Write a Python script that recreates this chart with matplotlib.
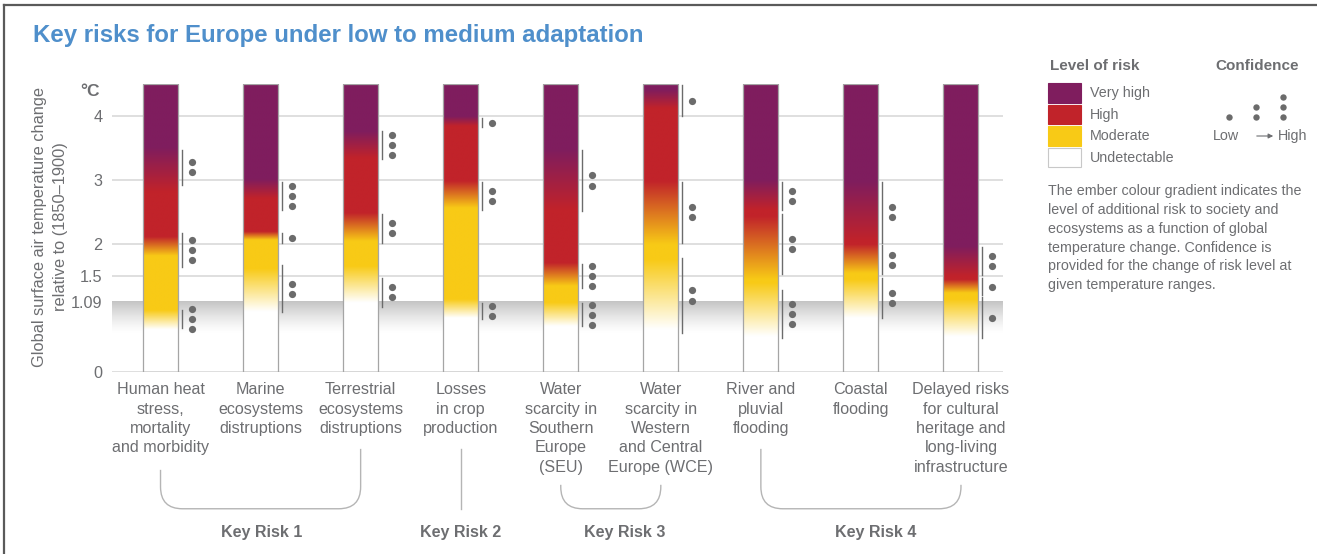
import matplotlib.pyplot as plt
import numpy as np
from matplotlib.colors import to_rgb
from matplotlib.patches import PathPatch, Rectangle
from matplotlib.path import Path

W, H = 1317, 554

CATEGORIES = [
    "Human heat\nstress,\nmortality\nand morbidity",
    "Marine\necosystems\ndistruptions",
    "Terrestrial\necosystems\ndistruptions",
    "Losses\nin crop\nproduction",
    "Water\nscarcity in\nSouthern\nEurope\n(SEU)",
    "Water\nscarcity in\nWestern\nand Central\nEurope (WCE)",
    "River and\npluvial\nflooding",
    "Coastal\nflooding",
    "Delayed risks\nfor cultural\nheritage and\nlong-living\ninfrastructure",
]

# transition ranges (start, end) in degC
UND_TO_MOD = [(0.65, 0.95), (0.93, 1.60), (1.07, 1.64), (0.83, 1.12), (0.70, 1.07),
              (0.65, 1.74), (0.54, 1.38), (0.83, 1.43), (0.54, 1.12)]
MOD_TO_HIGH = [(1.80, 2.10), (2.05, 2.18), (2.03, 2.47), (2.55, 2.97), (1.33, 1.69),
               (1.98, 2.97), (1.43, 2.42), (1.53, 1.98), (1.22, 1.43)]
HIGH_TO_VH = [(2.80, 3.50), (2.70, 3.00), (3.33, 3.75), (3.83, 3.98), (2.52, 3.46),
              (4.11, 4.40), (2.52, 2.99), (2.03, 2.97), (1.48, 1.95)]

# confidence: (start, end, number of dots)
CONFIDENCE = [
    [(0.68, 0.96, 3), (1.63, 2.17, 3), (2.92, 3.47, 2)],
    [(0.93, 1.66, 2), (2.01, 2.16, 1), (2.52, 2.97, 3)],
    [(1.01, 1.47, 2), (2.01, 2.47, 2), (3.32, 3.77, 3)],
    [(0.82, 1.07, 2), (2.52, 2.97, 2), (3.82, 3.97, 1)],
    [(0.71, 1.07, 3), (1.30, 1.68, 3), (2.51, 3.47, 2)],
    [(0.61, 1.77, 2), (2.01, 2.97, 2), (4.00, 4.48, 1)],
    [(0.52, 1.27, 3), (1.52, 2.46, 2), (2.52, 2.97, 2)],
    [(0.83, 1.47, 2), (1.52, 1.98, 2), (2.01, 2.97, 2)],
    [(0.52, 1.16, 1), (1.19, 1.46, 1), (1.51, 1.95, 2)],
]

KEY_RISKS = ["Key Risk 1", "Key Risk 2", "Key Risk 3", "Key Risk 4"]
KEY_RISK_MEMBERS = [(0, 2), (3, 3), (4, 5), (6, 8)]
KEY_RISK_LABEL_X = [1.01, 3.0, 4.64, 7.15]

Y_TICKS = [0, 1.09, 1.5, 2, 3, 4]
Y_TICK_LABELS = ["0", "1.09", "1.5", "2", "3", "4"]
GRID_LEVELS = [0, 1.5, 2, 3, 4]
RECENT_WARMING = 1.09
T_TOP = 4.5

RISK_LEVELS = ["Very high", "High", "Moderate", "Undetectable"]
RISK_COLORS = ["#ffffff", "#f8ca16", "#c1232a", "#7f1d5e"]  # undetectable -> very high

GREY = "#6d6e71"
DOT = "#6b6b6b"
REG = ["Liberation Sans", "DejaVu Sans"]


def ember_colours(k, temps):
    level = np.zeros_like(temps)
    for t0, t1 in (UND_TO_MOD[k], MOD_TO_HIGH[k], HIGH_TO_VH[k]):
        level += np.clip((temps - t0) / (t1 - t0), 0, 1)
    cols = np.array([to_rgb(c) for c in RISK_COLORS])
    idx = np.clip(np.floor(level), 0, 2).astype(int)
    f = (level - idx)[:, None]
    return cols[idx] * (1 - f) + cols[idx + 1] * f


fig = plt.figure(figsize=(W / 100, H / 100), dpi=100)
fig.patch.set_facecolor("white")

x_min, x_max = -0.485, 8.42
ax = fig.add_axes([112 / W, 1 - 371.5 / H, (1003 - 112) / W, (371.5 - 84) / H])
ax.set_xlim(x_min, x_max)
ax.set_ylim(0, T_TOP)
for s in ax.spines.values():
    s.set_visible(False)
ax.set_xticks([])
ax.set_yticks(Y_TICKS)
ax.set_yticklabels(Y_TICK_LABELS, family=REG)
ax.tick_params(axis="y", length=0, pad=7, labelsize=11.7, labelcolor=GREY)

for g in GRID_LEVELS:
    ax.axhline(g, color="#dcdcdc", lw=1.3, zorder=0.5)

# grey band below present-day warming
band = np.linspace(1, 0, 100) ** 1.3
band_rgb = 1 - band[:, None] * (1 - np.array(to_rgb("#c4c4c4")))
ax.imshow(band_rgb[::-1, None, :], extent=[x_min, x_max, 0.6, RECENT_WARMING],
          origin="lower", aspect="auto", interpolation="bilinear", zorder=0.6)

half_w = 0.175
temps = np.linspace(0, T_TOP, 600)
for k in range(len(CATEGORIES)):
    img = ember_colours(k, temps)[:, None, :]
    ax.imshow(img, extent=[k - half_w, k + half_w, 0, T_TOP], origin="lower",
              aspect="auto", interpolation="bilinear", zorder=2)
    ax.add_patch(Rectangle((k - half_w, 0), 2 * half_w, T_TOP, fill=False,
                           ec="#a5a5a5", lw=0.9, zorder=3))
    for t0, t1, n in CONFIDENCE[k]:
        ax.plot([k + half_w + 0.037] * 2, [t0, t1], color=DOT, lw=1.0, zorder=3)
        mid = (t0 + t1) / 2
        ys = mid + (np.arange(n) - (n - 1) / 2) * 0.158
        ax.plot([k + half_w + 0.14] * n, ys, "o", ms=5.2, color=DOT, mec="none",
                zorder=3, clip_on=False)
    ax.text(k, -0.17, CATEGORIES[k], ha="center", va="top", fontsize=11.6,
            family=REG, color=GREY, linespacing=1.36, clip_on=False)

ax.set_xlim(x_min, x_max)
ax.set_ylim(0, T_TOP)


def px_to_t(y):
    return (371.5 - y) / 64.0


# key risk brackets
bottom = px_to_t(509)
tops = [(470, 449), (449, 449), (485, 485), (449, 485)]
rx, ry = 0.22, 22 / 64.0
for (a, b), (ytop0, ytop1), label, lx in zip(KEY_RISK_MEMBERS, tops, KEY_RISKS, KEY_RISK_LABEL_X):
    if a == b:
        ax.plot([a, a], [px_to_t(ytop0), bottom], color="#b5b5b5", lw=1.0, clip_on=False)
    else:
        verts = [(a, px_to_t(ytop0)), (a, bottom + ry), (a, bottom), (a + rx, bottom),
                 (b - rx, bottom), (b, bottom), (b, bottom + ry), (b, px_to_t(ytop1))]
        codes = [Path.MOVETO, Path.LINETO, Path.CURVE3, Path.CURVE3, Path.LINETO,
                 Path.CURVE3, Path.CURVE3, Path.LINETO]
        ax.add_patch(PathPatch(Path(verts, codes), fill=False, ec="#b5b5b5", lw=1.0,
                               clip_on=False))
    ax.text(lx, px_to_t(533), label, ha="center", va="center", fontsize=11.5,
            fontweight="bold", family=REG, color=GREY, clip_on=False)

# overlay in pixel coordinates for title, legend and frame
ov = fig.add_axes([0, 0, 1, 1])
ov.set_xlim(0, W)
ov.set_ylim(H, 0)
ov.axis("off")

ov.plot([4, W], [5, 5], color="#5a5a5a", lw=1.6)
ov.plot([4, 4], [5, H], color="#5a5a5a", lw=1.6)

ov.text(33, 42, "Key risks for Europe under low to medium adaptation", ha="left",
        va="baseline", fontsize=17.3, fontweight="bold", color="#4f8fcb", family=REG)
ov.text(100, 92, "°C", ha="right", va="center", fontsize=12.5, fontweight="bold",
        color=GREY, family=REG)
ov.text(50, 227, "Global surface air temperature change\nrelative to (1850\u20131900)",
        rotation=90, ha="center", va="center", fontsize=11.8, family=REG,
        color=GREY, linespacing=1.55)

# legend: level of risk
ov.text(1050, 66, "Level of risk", ha="left", va="center", fontsize=11,
        fontweight="bold", color=GREY, family=REG)
legend_cols = RISK_COLORS[::-1]
for j, (name, col) in enumerate(zip(RISK_LEVELS, legend_cols)):
    y0 = 83 + j * 21.5
    ov.add_patch(Rectangle((1048, y0), 33, 19.5, fc=col,
                           ec="#c8c8c8" if col == "#ffffff" else col, lw=0.8))
    ov.text(1090, y0 + 10, name, ha="left", va="center", fontsize=10.3,
            color=GREY, family=REG)

# legend: confidence
ov.text(1215, 66, "Confidence", ha="left", va="center", fontsize=11,
        fontweight="bold", color=GREY, family=REG)
for n, cx in zip([1, 2, 3], [1229, 1256, 1283]):
    ys = 116.5 - np.arange(n) * 9.7
    ov.plot([cx] * n, ys, "o", ms=4.6, color=DOT, mec="none")
ov.text(1213, 136, "Low", ha="left", va="center", fontsize=10.3, color=GREY, family=REG)
ov.annotate("", xy=(1276, 136), xytext=(1254, 136),
            arrowprops=dict(arrowstyle="-|>", color=GREY, lw=0.8, mutation_scale=7))
ov.text(1278, 136, "High", ha="left", va="center", fontsize=10.3, color=GREY, family=REG)

ov.text(1048, 184,
        "The ember colour gradient indicates the\nlevel of additional risk to society and\n"
        "ecosystems as a function of global\ntemperature change. Confidence is\n"
        "provided for the change of risk level at\ngiven temperature ranges.",
        ha="left", va="top", fontsize=10.3, color=GREY, family=REG, linespacing=1.44)

fig.savefig("out.png", dpi=100)
